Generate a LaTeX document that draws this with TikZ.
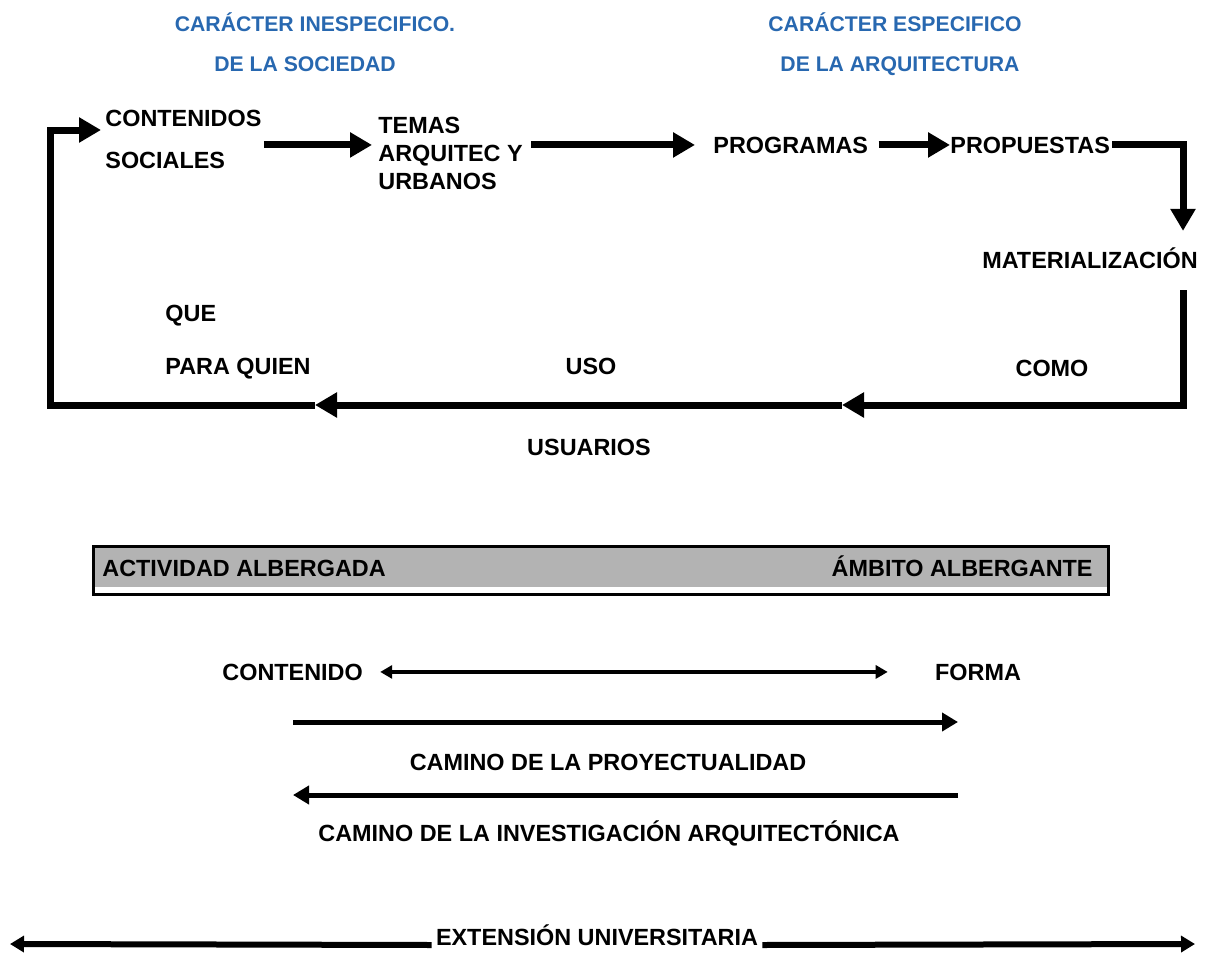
\documentclass[tikz,border=0pt]{standalone}
\usepackage{fontspec}
\setmainfont{Liberation Sans}
\usetikzlibrary{arrows.meta}
\definecolor{azul}{RGB}{40,104,176}
\definecolor{grisbarra}{RGB}{179,179,179}
\tikzset{
  txt/.style={inner sep=0pt, font=\fontsize{11.7}{14}\selectfont\bfseries},
  titulo/.style={inner sep=0pt, text=azul, font=\fontsize{10.6}{13}\selectfont\bfseries},
  flow/.style={line width=3.5pt, -{Triangle[length=11pt,width=12pt]}},
  dbl/.style={line width=1.9pt, {Triangle[length=6pt,width=6.5pt]}-{Triangle[length=6pt,width=6.5pt]}},
  camino/.style={line width=2.5pt, -{Triangle[length=8pt,width=9pt]}},
  ext/.style={line width=3pt, -{Triangle[length=7pt,width=8pt]}},
  barra/.style={draw, line width=1.5pt, fill=white, minimum width=507.5pt, minimum height=24pt, inner sep=0pt}
}
\begin{document}
\begin{tikzpicture}[x=0.5pt, y=-0.5pt]
        \useasboundingbox (0,0) rectangle (1205,953);
        \node[titulo, anchor=base] (car1) at (315,32) {CARÁCTER INESPECIFICO.};
        \node[titulo, anchor=base] (car2) at (305,71) {DE LA SOCIEDAD};
        \node[titulo, anchor=base] (car3) at (895,32) {CARÁCTER ESPECIFICO};
        \node[titulo, anchor=base] (car4) at (900,71) {DE LA ARQUITECTURA};
        \node[txt, anchor=west, align=left, font=\fontsize{11.7}{21}\selectfont\bfseries] (soc) at (105,139) {CONTENIDOS\\SOCIALES};
        \node[txt, anchor=west, align=left] (temas) at (378,153) {TEMAS\\ARQUITEC Y\\URBANOS};
        \node[txt, anchor=base west] (prog) at (713,153) {PROGRAMAS};
        \node[txt, anchor=base west] (prop) at (950,153) {PROPUESTAS};
        \node[txt, anchor=base] (mat) at (1090,268) {MATERIALIZACIÓN};
        \node[txt, anchor=base west] (que) at (165,321) {QUE};
        \node[txt, anchor=base west] (para) at (165,374) {PARA QUIEN};
        \node[txt, anchor=base] (uso) at (591,374) {USO};
        \node[txt, anchor=base] (como) at (1052,376) {COMO};
        \node[txt, anchor=base] (usu) at (589,455) {USUARIOS};
        \coordinate (borde) at (1183,0);
        \coordinate (p1) at (842,405);
        \coordinate (p2) at (315,405);
        \coordinate (p3) at (50,405);
        \draw[flow] ([xshift=1pt]soc.east |- prog) -- ([xshift=-3pt]temas.west |- prog);
        \draw[flow] ([xshift=4pt]temas.east |- prog) -- ([xshift=-9pt]prog.west);
        \draw[flow] ([xshift=5pt]prog.east) -- (prop.west);
        \draw[flow] ([xshift=1pt]prop.east) -| ([yshift=8pt]borde |- mat.north);
        \draw[flow] ([yshift=-11pt]borde |- mat.base) |- (p1);
        \draw[flow] (p1) -- (p2);
        \draw[flow] (p2) -- (p3) |- ([xshift=-2pt,yshift=4.5pt]soc.west);
        \node[barra] (bar) at (600.5,570) {};
        \fill[grisbarra] ([shift={(1.5pt,-1.5pt)}]bar.north west) rectangle ([shift={(-1.5pt,4.5pt)}]bar.south east);
        \node[txt, anchor=base west] (act) at (102,576) {ACTIVIDAD ALBERGADA};
        \node[txt, anchor=base east] (amb) at (1093,576) {ÁMBITO ALBERGANTE};
        \node[txt, anchor=base west] (cont) at (222,680) {CONTENIDO};
        \node[txt, anchor=base] (forma) at (978,680) {FORMA};
        \draw[dbl] ([xshift=8.5pt]cont.east) -- ([xshift=-23.5pt]forma.west);
        \node[txt, anchor=base] (proy) at (608,770) {CAMINO DE LA PROYECTUALIDAD};
        \node[txt, anchor=base] (inv) at (609,841) {CAMINO DE LA INVESTIGACIÓN ARQUITECTÓNICA};
        \coordinate (ca) at (293,722);
        \coordinate (cb) at (958,722);
        \coordinate (cc) at (958,795);
        \coordinate (cd) at (293,795);
        \draw[camino] (ca) -- (cb);
        \draw[camino] (cc) -- (cd);
        \node[txt, anchor=base] (extn) at (597,945) {EXTENSIÓN UNIVERSITARIA};
        \coordinate (ea) at (10,944);
        \coordinate (eb) at (1195,944);
        \draw[ext] ([xshift=-2pt]extn.base west) -- (ea);
        \draw[ext] ([xshift=2pt]extn.base east) -- (eb);
\end{tikzpicture}
\end{document}
